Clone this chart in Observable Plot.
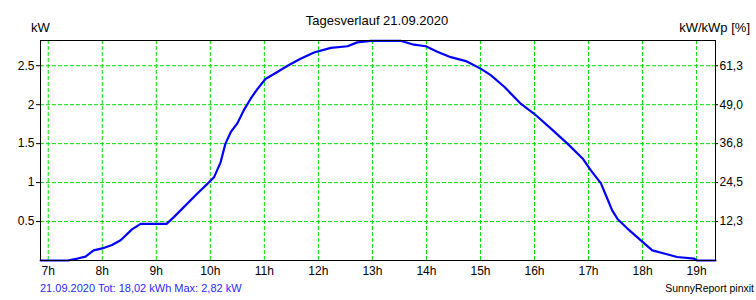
<!DOCTYPE html>
<html>
<head>
<meta charset="utf-8">
<script src="https://cdn.jsdelivr.net/npm/d3@7"></script>
<script src="https://cdn.jsdelivr.net/npm/@observablehq/plot@0.6"></script>
<style>
  html, body { margin: 0; padding: 0; background: #fff; }
  #chart { width: 756px; height: 300px; }
</style>
</head>
<body>
<div id="chart"></div>
<script>
// ---- data ----
const hours = [6.86, 7.36, 7.54, 7.69, 7.84, 8.0, 8.18, 8.34, 8.55, 8.71, 9.19, 9.33, 9.76, 9.97, 10.07, 10.19, 10.28, 10.38, 10.5, 10.62, 10.75, 10.87, 11.02, 11.24, 11.43, 11.67, 11.92, 12.23, 12.54, 12.72, 12.97, 13.52, 13.77, 13.99, 14.2, 14.45, 14.73, 15.01, 15.19, 15.44, 15.75, 16.0, 16.31, 16.61, 16.89, 17.04, 17.23, 17.35, 17.44, 17.54, 17.72, 18.0, 18.18, 18.4, 18.64, 18.95, 19.01, 19.35];
const power = [0, 0, 0.025, 0.05, 0.13, 0.155, 0.2, 0.26, 0.40, 0.47, 0.47, 0.56, 0.86, 1.0, 1.07, 1.26, 1.50, 1.65, 1.76, 1.93, 2.08, 2.20, 2.33, 2.42, 2.50, 2.59, 2.67, 2.73, 2.75, 2.80, 2.82, 2.82, 2.77, 2.75, 2.68, 2.61, 2.56, 2.46, 2.38, 2.23, 2.01, 1.88, 1.69, 1.50, 1.31, 1.16, 0.99, 0.79, 0.64, 0.53, 0.41, 0.24, 0.13, 0.09, 0.045, 0.025, 0, 0];

const xTicks = [7, 8, 9, 10, 11, 12, 13, 14, 15, 16, 17, 18, 19];
const xTickLabels = ["7h", "8h", "9h", "10h", "11h", "12h", "13h", "14h", "15h", "16h", "17h", "18h", "19h"];
const yTicks = [0.5, 1, 1.5, 2, 2.5];
const yLeftLabels = ["0.5", "1", "1.5", "2", "2.5"];
const yRightLabels = ["12,3", "24,5", "36,8", "49,0", "61,3"];

const titleText = "Tagesverlauf 21.09.2020";
const leftUnit = "kW";
const rightUnit = "kW/kWp [%]";
const footerLeft = "21.09.2020 Tot: 18,02 kWh Max: 2,82 kW";
const footerRight = "SunnyReport pinxit";

const rows = hours.map((h, i) => ({h, p: power[i]}));

const green = "#00e000";
const font = "'Liberation Sans', Arial, sans-serif";

const chart = Plot.plot({
  width: 756,
  height: 300,
  marginLeft: 40,
  marginRight: 41,
  marginTop: 40,
  marginBottom: 40,
  style: {fontFamily: font, fontSize: "12px", background: "#fff", color: "#000", overflow: "visible"},
  x: {domain: [6.857, 19.35]},
  y: {domain: [0, 2.824]},
  marks: [
    Plot.gridX(xTicks, {stroke: green, strokeOpacity: 1, strokeWidth: 1, strokeDasharray: "4,2"}),
    Plot.gridY(yTicks, {stroke: green, strokeOpacity: 1, strokeWidth: 1, strokeDasharray: "4,2"}),
    Plot.axisX(xTicks, {tickSize: 0, tickPadding: 6, tickFormat: (d, i) => xTickLabels[i], label: null, fontSize: 12}),
    Plot.axisY(yTicks, {anchor: "left", tickSize: 4, tickPadding: 2, tickFormat: (d, i) => yLeftLabels[i], label: null, fontSize: 12}),
    Plot.axisY(yTicks, {anchor: "right", tickSize: 2, tickPadding: 2, tickFormat: (d, i) => yRightLabels[i], label: null, fontSize: 12}),
    Plot.line(rows, {x: "h", y: "p", stroke: "#0000ff", strokeWidth: 2.2, curve: "linear"}),
    Plot.frame({stroke: "#000", strokeWidth: 1})
  ]
});

document.getElementById("chart").appendChild(chart);

const svg = d3.select(chart);
svg.append("text").attr("x", 377).attr("y", 25).attr("text-anchor", "middle")
  .attr("font-family", font).attr("font-size", 13).attr("fill", "#000").text(titleText);
svg.append("text").attr("x", 31).attr("y", 32).attr("text-anchor", "start")
  .attr("font-family", font).attr("font-size", 13).attr("fill", "#000").text(leftUnit);
svg.append("text").attr("x", 750).attr("y", 32).attr("text-anchor", "end")
  .attr("font-family", font).attr("font-size", 13).attr("fill", "#000").text(rightUnit);
svg.append("text").attr("x", 40).attr("y", 292).attr("text-anchor", "start")
  .attr("font-family", font).attr("font-size", 11).attr("fill", "#2a2aff").text(footerLeft);
svg.append("text").attr("x", 754).attr("y", 292).attr("text-anchor", "end")
  .attr("font-family", font).attr("font-size", 10.5).attr("fill", "#000").text(footerRight);
</script>
</body>
</html>
